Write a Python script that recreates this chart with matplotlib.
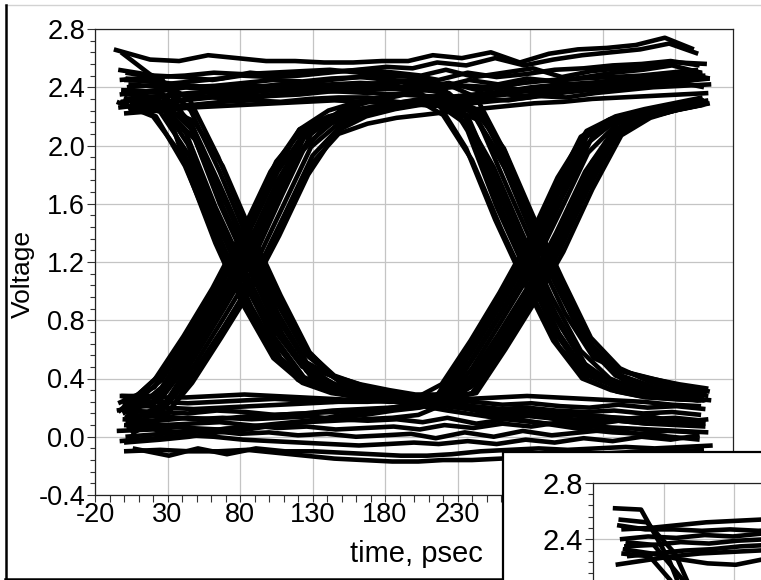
import matplotlib
matplotlib.use("Agg")
import matplotlib.pyplot as plt
from matplotlib.ticker import FixedLocator, MultipleLocator
from matplotlib.lines import Line2D
from matplotlib.patches import Rectangle

plt.rcParams['font.family'] = ['Liberation Sans', 'DejaVu Sans']
plt.rcParams['axes.unicode_minus'] = False

# ---------------- data ----------------
TIME_PS = [0, 25, 45, 65, 85, 105, 125, 145, 165, 185, 203,
           220, 240, 260, 280, 300, 320, 340, 360, 380, 400]

# high - high - high
HHH = [
    [2.66, 2.59, 2.58, 2.62, 2.60, 2.58, 2.58, 2.57, 2.57, 2.58, 2.58, 2.62, 2.60, 2.64, 2.57, 2.63, 2.66, 2.67, 2.69, 2.74, 2.66],
    [2.52, 2.48, 2.47, 2.45, 2.48, 2.47, 2.48, 2.50, 2.52, 2.54, 2.53, 2.57, 2.55, 2.60, 2.55, 2.59, 2.62, 2.64, 2.66, 2.70, 2.63],
    [2.40, 2.42, 2.44, 2.46, 2.50, 2.48, 2.50, 2.51, 2.52, 2.50, 2.48, 2.52, 2.47, 2.50, 2.53, 2.47, 2.51, 2.53, 2.55, 2.57, 2.56],
    [2.30, 2.33, 2.35, 2.33, 2.36, 2.38, 2.40, 2.42, 2.43, 2.42, 2.45, 2.40, 2.45, 2.42, 2.46, 2.44, 2.47, 2.50, 2.52, 2.55, 2.50],
    [2.22, 2.24, 2.26, 2.27, 2.28, 2.29, 2.30, 2.31, 2.30, 2.29, 2.28, 2.27, 2.29, 2.31, 2.33, 2.36, 2.38, 2.40, 2.42, 2.44, 2.40],
    [2.45, 2.43, 2.40, 2.41, 2.38, 2.40, 2.41, 2.40, 2.42, 2.44, 2.40, 2.43, 2.38, 2.40, 2.36, 2.39, 2.42, 2.44, 2.47, 2.50, 2.46],
    [2.35, 2.38, 2.40, 2.38, 2.42, 2.40, 2.43, 2.45, 2.47, 2.48, 2.48, 2.45, 2.50, 2.47, 2.49, 2.52, 2.53, 2.55, 2.56, 2.58, 2.55],
]
HHH_OFF = [-7, -4, 2, -2, 0, 4, -3]

# low - low - low
LLL = [
    [0.28, 0.27, 0.27, 0.28, 0.29, 0.28, 0.27, 0.26, 0.25, 0.24, 0.24, 0.25, 0.26, 0.27, 0.28, 0.27, 0.26, 0.25, 0.24, 0.22, 0.21],
    [0.15, 0.14, 0.12, 0.13, 0.12, 0.13, 0.14, 0.12, 0.11, 0.12, 0.10, 0.13, 0.09, 0.12, 0.15, 0.11, 0.13, 0.12, 0.14, 0.10, 0.12],
    [0.04, 0.05, 0.03, 0.04, 0.02, 0.03, 0.01, 0.02, 0.00, 0.01, 0.02, -0.01, 0.03, 0.00, 0.04, 0.01, 0.03, 0.05, 0.02, 0.04, 0.03],
    [-0.10, -0.09, -0.10, -0.10, -0.09, -0.11, -0.13, -0.15, -0.16, -0.17, -0.17, -0.16, -0.16, -0.15, -0.14, -0.13, -0.12, -0.11, -0.10, -0.10, -0.09],
    [-0.08, -0.13, -0.08, -0.12, -0.08, -0.10, -0.10, -0.11, -0.12, -0.13, -0.13, -0.12, -0.10, -0.09, -0.08, -0.09, -0.08, -0.07, -0.08, -0.07, -0.06],
    [0.10, 0.08, 0.09, 0.10, 0.08, 0.06, 0.07, 0.05, 0.06, 0.07, 0.05, 0.08, 0.06, 0.09, 0.07, 0.10, 0.08, 0.11, 0.09, 0.12, 0.10],
    [-0.03, -0.01, 0.01, 0.00, -0.02, -0.03, -0.04, -0.05, -0.06, -0.05, -0.04, -0.05, -0.03, -0.05, -0.02, -0.04, -0.01, -0.03, 0.00, -0.02, 0.01],
]
LLL_OFF = [-2, 3, -5, 0, 6, 1, -3]

# high - low - high
HLH = [
    [2.30, 2.20, 1.93, 1.45, 1.02, 0.63, 0.39, 0.32, 0.27, 0.26, 0.25, 0.27, 0.57, 0.89, 1.22, 1.66, 2.06, 2.18, 2.23, 2.27, 2.30],
    [2.40, 2.24, 1.80, 1.32, 0.89, 0.54, 0.37, 0.30, 0.27, 0.26, 0.25, 0.27, 0.57, 0.89, 1.22, 1.66, 2.06, 2.19, 2.24, 2.28, 2.31],
    [2.36, 2.33, 2.08, 1.58, 1.15, 0.74, 0.48, 0.42, 0.36, 0.32, 0.29, 0.29, 0.40, 0.70, 1.02, 1.40, 1.82, 2.11, 2.20, 2.25, 2.28],
    [2.28, 2.25, 2.04, 1.56, 1.14, 0.71, 0.41, 0.32, 0.27, 0.24, 0.22, 0.24, 0.38, 0.69, 1.02, 1.40, 1.82, 2.11, 2.20, 2.25, 2.29],
    [2.45, 2.44, 2.32, 1.92, 1.43, 0.98, 0.60, 0.42, 0.35, 0.30, 0.27, 0.26, 0.30, 0.60, 0.92, 1.27, 1.70, 2.07, 2.19, 2.24, 2.28],
    [2.38, 2.31, 2.01, 1.52, 1.09, 0.68, 0.41, 0.32, 0.28, 0.26, 0.25, 0.25, 0.52, 0.84, 1.17, 1.60, 2.01, 2.17, 2.23, 2.27, 2.30],
    [2.32, 2.29, 2.10, 1.65, 1.21, 0.78, 0.47, 0.34, 0.29, 0.26, 0.25, 0.25, 0.43, 0.74, 1.07, 1.46, 1.89, 2.13, 2.21, 2.25, 2.29],
]
HLH_OFF = [-5, 3, -2, 4, 0, -1, 3]

# low - high - low
LHL = [
    [0.20, 0.43, 0.74, 1.07, 1.46, 1.89, 2.13, 2.21, 2.25, 2.29, 2.31, 2.21, 1.90, 1.43, 1.00, 0.62, 0.39, 0.31, 0.27, 0.26, 0.25],
    [0.28, 0.28, 0.55, 0.87, 1.20, 1.64, 2.05, 2.18, 2.23, 2.27, 2.30, 2.28, 2.14, 1.70, 1.26, 0.83, 0.50, 0.35, 0.29, 0.27, 0.25],
    [0.10, 0.24, 0.55, 0.88, 1.22, 1.66, 2.08, 2.24, 2.30, 2.34, 2.38, 2.36, 2.18, 1.72, 1.27, 0.85, 0.54, 0.45, 0.40, 0.35, 0.31],
    [0.05, 0.13, 0.37, 0.68, 1.00, 1.38, 1.80, 2.10, 2.20, 2.25, 2.28, 2.28, 2.24, 1.98, 1.52, 1.09, 0.68, 0.47, 0.38, 0.33, 0.30],
    [0.18, 0.22, 0.46, 0.77, 1.10, 1.51, 1.93, 2.14, 2.22, 2.26, 2.29, 2.28, 2.20, 1.85, 1.39, 0.96, 0.59, 0.40, 0.32, 0.28, 0.26],
    [0.18, 0.39, 0.69, 1.02, 1.40, 1.82, 2.11, 2.20, 2.25, 2.28, 2.31, 2.28, 2.10, 1.63, 1.19, 0.76, 0.45, 0.34, 0.29, 0.26, 0.25],
    [0.22, 0.24, 0.50, 0.82, 1.15, 1.57, 1.99, 2.16, 2.22, 2.26, 2.30, 2.29, 2.25, 1.93, 1.45, 1.02, 0.63, 0.42, 0.34, 0.30, 0.27],
]
LHL_OFF = [0, -3, 4, 2, -5, 1, -1]

# high - low - low
HLL = [
    [2.64, 2.45, 1.85, 1.33, 0.89, 0.54, 0.37, 0.30, 0.27, 0.25, 0.24, 0.22, 0.21, 0.19, 0.20, 0.18, 0.17, 0.18, 0.16, 0.17, 0.15],
    [2.33, 2.23, 1.93, 1.45, 1.02, 0.63, 0.39, 0.32, 0.28, 0.26, 0.24, 0.21, 0.19, 0.17, 0.16, 0.14, 0.15, 0.13, 0.12, 0.13, 0.11],
    [2.50, 2.46, 2.12, 1.60, 1.16, 0.73, 0.45, 0.36, 0.31, 0.28, 0.26, 0.23, 0.20, 0.16, 0.14, 0.12, 0.10, 0.11, 0.09, 0.08, 0.07],
    [2.38, 2.36, 2.16, 1.73, 1.28, 0.85, 0.51, 0.40, 0.34, 0.30, 0.27, 0.25, 0.24, 0.22, 0.23, 0.21, 0.20, 0.22, 0.20, 0.21, 0.19],
    [2.26, 2.25, 2.17, 1.86, 1.40, 0.97, 0.58, 0.38, 0.30, 0.25, 0.21, 0.18, 0.15, 0.12, 0.10, 0.08, 0.07, 0.06, 0.05, 0.04, 0.03],
    [2.46, 2.44, 2.24, 1.82, 1.34, 0.91, 0.56, 0.40, 0.33, 0.29, 0.26, 0.24, 0.21, 0.19, 0.17, 0.16, 0.14, 0.13, 0.12, 0.10, 0.09],
    [2.30, 2.20, 1.86, 1.39, 0.96, 0.59, 0.38, 0.31, 0.27, 0.25, 0.24, 0.22, 0.19, 0.15, 0.11, 0.08, 0.05, 0.03, 0.02, 0.00, -0.02],
]
HLL_OFF = [-2, 0, 1, 1, 3, 1, -3]

# low - high - high
LHH = [
    [0.13, 0.34, 0.65, 0.97, 1.33, 1.76, 2.09, 2.20, 2.24, 2.28, 2.31, 2.33, 2.35, 2.37, 2.40, 2.42, 2.43, 2.45, 2.46, 2.47, 2.48],
    [0.23, 0.34, 0.65, 0.97, 1.33, 1.76, 2.11, 2.24, 2.30, 2.34, 2.37, 2.39, 2.41, 2.40, 2.43, 2.45, 2.46, 2.47, 2.48, 2.50, 2.52],
    [0.02, 0.15, 0.46, 0.77, 1.10, 1.51, 1.93, 2.14, 2.22, 2.26, 2.29, 2.30, 2.32, 2.31, 2.34, 2.33, 2.36, 2.38, 2.40, 2.41, 2.42],
    [0.16, 0.26, 0.55, 0.87, 1.20, 1.64, 2.05, 2.18, 2.23, 2.27, 2.30, 2.32, 2.34, 2.36, 2.38, 2.40, 2.42, 2.44, 2.46, 2.48, 2.50],
    [0.12, 0.20, 0.44, 0.74, 1.06, 1.46, 1.86, 2.08, 2.15, 2.19, 2.21, 2.23, 2.25, 2.27, 2.29, 2.30, 2.32, 2.33, 2.34, 2.35, 2.36],
    [0.06, 0.22, 0.50, 0.82, 1.15, 1.57, 1.99, 2.16, 2.22, 2.26, 2.30, 2.31, 2.33, 2.35, 2.34, 2.37, 2.39, 2.41, 2.42, 2.44, 2.46],
    [0.17, 0.39, 0.69, 1.02, 1.40, 1.82, 2.11, 2.20, 2.25, 2.28, 2.31, 2.34, 2.33, 2.36, 2.38, 2.37, 2.40, 2.42, 2.44, 2.45, 2.47],
]
LHH_OFF = [1, -4, 5, -1, 3, 4, -4]

# high - high - low
HHL = [
    [2.32, 2.34, 2.36, 2.37, 2.38, 2.38, 2.39, 2.40, 2.40, 2.40, 2.40, 2.36, 2.08, 1.57, 1.14, 0.71, 0.42, 0.34, 0.30, 0.28, 0.27],
    [2.45, 2.47, 2.48, 2.50, 2.49, 2.50, 2.51, 2.52, 2.50, 2.48, 2.47, 2.42, 2.10, 1.58, 1.14, 0.72, 0.44, 0.36, 0.31, 0.28, 0.26],
    [2.25, 2.27, 2.28, 2.30, 2.31, 2.30, 2.32, 2.33, 2.33, 2.30, 2.28, 2.27, 2.18, 1.84, 1.39, 0.96, 0.60, 0.45, 0.40, 0.36, 0.33],
    [2.38, 2.37, 2.40, 2.41, 2.43, 2.45, 2.44, 2.46, 2.47, 2.45, 2.44, 2.42, 2.18, 1.72, 1.27, 0.84, 0.50, 0.36, 0.30, 0.27, 0.25],
    [2.28, 2.30, 2.33, 2.35, 2.34, 2.36, 2.38, 2.37, 2.36, 2.35, 2.34, 2.33, 2.24, 1.86, 1.39, 0.96, 0.58, 0.38, 0.31, 0.27, 0.25],
    [2.42, 2.40, 2.41, 2.39, 2.40, 2.42, 2.43, 2.41, 2.42, 2.44, 2.43, 2.42, 2.33, 1.95, 1.46, 1.02, 0.63, 0.42, 0.35, 0.31, 0.28],
    [2.26, 2.29, 2.31, 2.33, 2.32, 2.34, 2.35, 2.37, 2.38, 2.39, 2.38, 2.30, 1.98, 1.49, 1.06, 0.66, 0.40, 0.32, 0.28, 0.26, 0.25],
]
HHL_OFF = [0, -3, 3, -2, 5, 3, -4]

# low - low - high
LLH = [
    [0.25, 0.24, 0.23, 0.24, 0.25, 0.26, 0.25, 0.24, 0.25, 0.26, 0.27, 0.36, 0.66, 0.99, 1.35, 1.78, 2.10, 2.20, 2.25, 2.29, 2.33],
    [0.18, 0.17, 0.16, 0.18, 0.17, 0.15, 0.16, 0.17, 0.18, 0.19, 0.20, 0.26, 0.57, 0.89, 1.22, 1.66, 2.06, 2.19, 2.24, 2.28, 2.32],
    [0.08, 0.07, 0.06, 0.05, 0.07, 0.08, 0.10, 0.11, 0.12, 0.13, 0.15, 0.22, 0.47, 0.79, 1.12, 1.53, 1.95, 2.15, 2.22, 2.27, 2.31],
    [0.00, 0.02, 0.04, 0.05, 0.07, 0.09, 0.11, 0.13, 0.15, 0.18, 0.20, 0.24, 0.38, 0.69, 1.02, 1.40, 1.82, 2.11, 2.20, 2.26, 2.30],
    [0.22, 0.20, 0.19, 0.20, 0.21, 0.22, 0.23, 0.24, 0.24, 0.25, 0.26, 0.26, 0.30, 0.60, 0.92, 1.27, 1.70, 2.07, 2.19, 2.25, 2.30],
    [0.12, 0.11, 0.13, 0.12, 0.14, 0.15, 0.16, 0.18, 0.19, 0.20, 0.22, 0.24, 0.34, 0.65, 0.97, 1.33, 1.76, 2.09, 2.20, 2.24, 2.28],
    [-0.04, -0.02, 0.00, 0.03, 0.05, 0.08, 0.10, 0.14, 0.17, 0.20, 0.23, 0.31, 0.61, 0.94, 1.29, 1.72, 2.08, 2.19, 2.24, 2.28, 2.31],
]
LLH_OFF = [-1, -1, 0, 1, 3, -1, 0]

# second (overlapping) window: only its upper-left corner is visible
INSET_TIME_PS = [0, 20, 40, 60, 80, 100, 120]
INSET_TRACES = [
    [2.62, 2.61, 2.25, 1.75, 1.30, 0.90, 0.60],
    [2.54, 2.52, 2.30, 1.85, 1.40, 0.98, 0.65],
    [2.47, 2.48, 2.50, 2.52, 2.53, 2.54, 2.56],
    [2.50, 2.47, 2.47, 2.46, 2.47, 2.46, 2.47],
    [2.40, 2.42, 2.41, 2.43, 2.42, 2.44, 2.43],
    [2.35, 2.36, 2.38, 2.37, 2.39, 2.40, 2.41],
    [2.30, 2.28, 2.05, 1.60, 1.15, 0.75, 0.45],
    [2.38, 2.36, 2.12, 1.65, 1.20, 0.80, 0.50],
    [2.22, 2.25, 2.28, 2.30, 2.31, 2.32, 2.33],
    [2.33, 2.30, 2.26, 2.23, 2.22, 2.26, 2.30],
    [2.28, 2.30, 2.32, 2.33, 2.35, 2.36, 2.37],
]
INSET_OFF = [-6, -2, 0, -3, -1, 2, 0, 3, -4, 1, 4]

X_TICKS = [-20, 30, 80, 130, 180, 230, 280, 330, 380]
Y_TICKS = [-0.4, 0.0, 0.4, 0.8, 1.2, 1.6, 2.0, 2.4, 2.8]
INSET_X_TICKS = [30, 80]
INSET_Y_TICKS = [2.4, 2.8]

# ---------------- figure ----------------
W, H = 761, 580
fig = plt.figure(figsize=(W / 100, H / 100), dpi=100)
fig.patch.set_facecolor('white')


def fx(px):
    return px / W


def fy(py):
    return 1 - py / H


GRID_C = '#c4c4c4'
LW = 3.3


def style_axes(a, labelsize, xt, yt):
    a.set_xlim(-20, 420)
    a.set_ylim(-0.4, 2.8)
    a.xaxis.set_major_locator(FixedLocator(xt))
    a.yaxis.set_major_locator(FixedLocator(yt))
    a.xaxis.set_minor_locator(MultipleLocator(10))
    a.yaxis.set_minor_locator(MultipleLocator(0.08))
    a.set_xticklabels([str(v) for v in xt])
    a.set_yticklabels(['%.1f' % v for v in yt])
    a.grid(which='major', color=GRID_C, lw=0.9)
    a.set_axisbelow(True)
    a.tick_params(axis='both', which='both', direction='out', color='#333333',
                  width=0.8, labelsize=labelsize)
    a.tick_params(axis='x', which='major', length=5, pad=0.3)
    a.tick_params(axis='x', which='minor', length=5)
    a.tick_params(axis='y', which='major', length=6, pad=1.2)
    a.tick_params(axis='y', which='minor', length=3.6)
    for s in a.spines.values():
        s.set_color('#222222')
        s.set_linewidth(0.9)


ax = fig.add_axes([fx(95), fy(495), fx(733) - fx(95), fy(29) - fy(495)])
style_axes(ax, 19.5, X_TICKS, Y_TICKS)

groups = [(HHH, HHH_OFF), (LLL, LLL_OFF), (HLH, HLH_OFF), (LHL, LHL_OFF),
          (HLL, HLL_OFF), (LHH, LHH_OFF), (HHL, HHL_OFF), (LLH, LLH_OFF)]
for traces, offs in groups:
    for vals, off in zip(traces, offs):
        ax.plot([t + off for t in TIME_PS], vals, color='black', lw=LW,
                solid_joinstyle='round', solid_capstyle='butt')

fig.text(fx(416), fy(562), 'time, psec', fontsize=21, ha='center', va='baseline')
fig.text(fx(23), fy(274), 'Voltage', fontsize=19, rotation=90,
         ha='center', va='center')

# window frame of the screenshot
fig.add_artist(Line2D([fx(5), 1], [fy(5), fy(5)], color='#d2d2d2', lw=1.0))
fig.add_artist(Line2D([fx(6), fx(6)], [fy(5), 0], color='black', lw=1.8))
fig.add_artist(Line2D([fx(5), fx(503)], [fy(578.5), fy(578.5)], color='black', lw=1.8))

# overlapping second window
panel = Rectangle((fx(503), -0.1), 0.5, fy(452) + 0.1, transform=fig.transFigure,
                  facecolor='white', edgecolor='black', lw=1.6, zorder=5)
fig.add_artist(panel)

ih = 3.2 * 141.5 / H
iw = 440 * 1.414 / W
axin = fig.add_axes([fx(593), fy(482.7) - ih, iw, ih], zorder=6)
style_axes(axin, 21, INSET_X_TICKS, INSET_Y_TICKS)
axin.tick_params(axis='x', which='both', labelbottom=False)
for vals, off in zip(INSET_TRACES, INSET_OFF):
    axin.plot([t + off for t in INSET_TIME_PS], vals, color='black', lw=LW,
              solid_joinstyle='round', solid_capstyle='butt')

fig.savefig('out.png', dpi=100, facecolor='white')
